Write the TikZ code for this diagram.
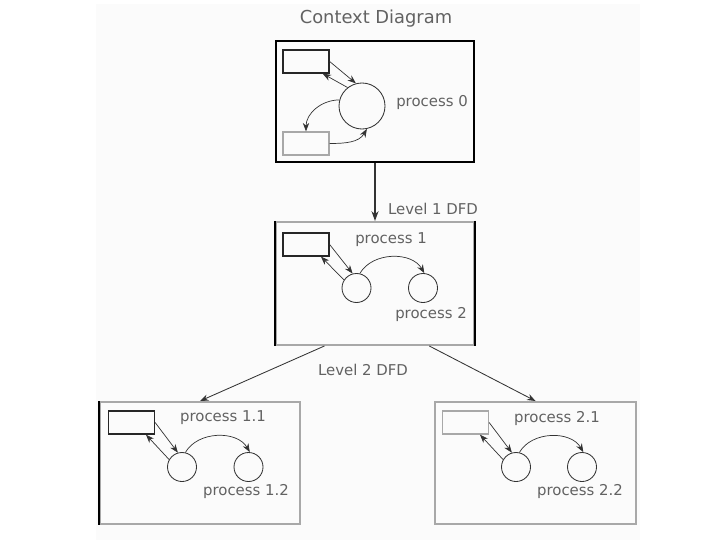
\documentclass[tikz,border=0pt]{standalone}
\usepackage{fontspec}
\setmainfont{DejaVu Sans}
\usetikzlibrary{arrows.meta}
\definecolor{labelgray}{HTML}{626262}
\definecolor{framegray}{HTML}{A8A8A8}

\begin{document}
\begin{tikzpicture}[x=0.025cm, y=0.025cm, >={Stealth[length=6pt,width=4.5pt]},
    every node/.style={text=labelgray, font=\fontsize{10.6}{12}\selectfont},
    frame/.style={draw=framegray, line width=1.4pt, minimum width=4.95cm, minimum height=3.05cm, inner sep=0pt},
    side/.style={black, line width=1.4pt},
    store/.style={draw=black!85, line width=0.9pt, minimum width=1.15cm, minimum height=0.575cm, inner sep=0pt},
    proc/.style={circle, draw=black!80, line width=0.6pt, minimum size=0.725cm, inner sep=0pt},
    flow/.style={->, line width=0.5pt, black!80},
    level/.style={->, line width=0.6pt, black!80}]
  \useasboundingbox (0,0) rectangle (720,540);
  \fill[black!1.5] (96,0) rectangle (640,536);

  % Context diagram
  \node[font=\fontsize{12.7}{14}\selectfont] (title) at (376,521) {Context Diagram};
  \node[frame, draw=black, minimum height=3.025cm] (box0) at (375,438.5) {};
  \node[store] (s0a) at (306,478.5) {};
  \node[store, draw=framegray] (s0b) at (306,396.5) {};
  \node[proc, minimum size=1.15cm] (p0) at (362,434) {};
  \node (l0) at (432,437) {process 0};
  \draw[flow] (s0a.east) -- (p0.105);
  \draw[flow] (p0.128) -- (s0a.-36);
  \draw[flow] (p0.165) to[out=180,in=90] (s0b.north);
  \draw[flow] (s0b.east) to[out=0,in=-120] (p0.-78);

  % Level 1 DFD
  \node[frame, minimum height=3.075cm] (box1) at (375,256.5) {};
  \draw[side] (box1.north west) -- (box1.south west) (box1.north east) -- (box1.south east);
  \node[store] (s1) at (306,295.5) {};
  \node[proc] (p1) at (356.5,252) {};
  \node[proc] (p2) at (423,252) {};
  \node (l1) at (391,300) {process 1};
  \node (l2) at (431,225) {process 2};
  \draw[flow] (s1.east) -- (p1.105);
  \draw[flow] (p1.147) -- (s1.-39);
  \draw[flow] (p1.77) to[out=60,in=120] (p2.85);
  \draw[level, line width=1.1pt, -{Stealth[length=7pt,width=5pt]}] (box0.south) -- (box1.north);
  \node (lv1) at (433,331) {Level 1 DFD};

  % Level 2 DFD, process 1
  \node[frame, minimum width=5cm] (box11) at (200,77) {};
  \draw[side] (box11.north west) -- (box11.south west);
  \node[store] (s11) at (131.5,117.5) {};
  \node[proc] (p11) at (182,73) {};
  \node[proc] (p12) at (248.5,73) {};
  \node (l11) at (223,122) {process 1.1};
  \node (l12) at (246,48) {process 1.2};
  \draw[flow] (s11.east) -- (p11.106);
  \draw[flow] (p11.150) -- (s11.-40);
  \draw[flow] (p11.77) to[out=60,in=120] (p12.85);

  % Level 2 DFD, process 2
  \node[frame, minimum width=5cm] (box21) at (535.5,77) {};
  \node[store, draw=framegray] (s21) at (465.5,117.5) {};
  \node[proc] (p21) at (516,73) {};
  \node[proc] (p22) at (582,73) {};
  \node (l21) at (557,121) {process 2.1};
  \node (l22) at (580,48) {process 2.2};
  \draw[flow] (s21.east) -- (p21.106);
  \draw[flow] (p21.150) -- (s21.-40);
  \draw[flow] (p21.77) to[out=60,in=120] (p22.85);

  \draw[level] (box1.-129) -- (box11.north);
  \draw[level] (box1.-49) -- (box21.north);
  \node (lv2) at (363,170) {Level 2 DFD};
\end{tikzpicture}
\end{document}
